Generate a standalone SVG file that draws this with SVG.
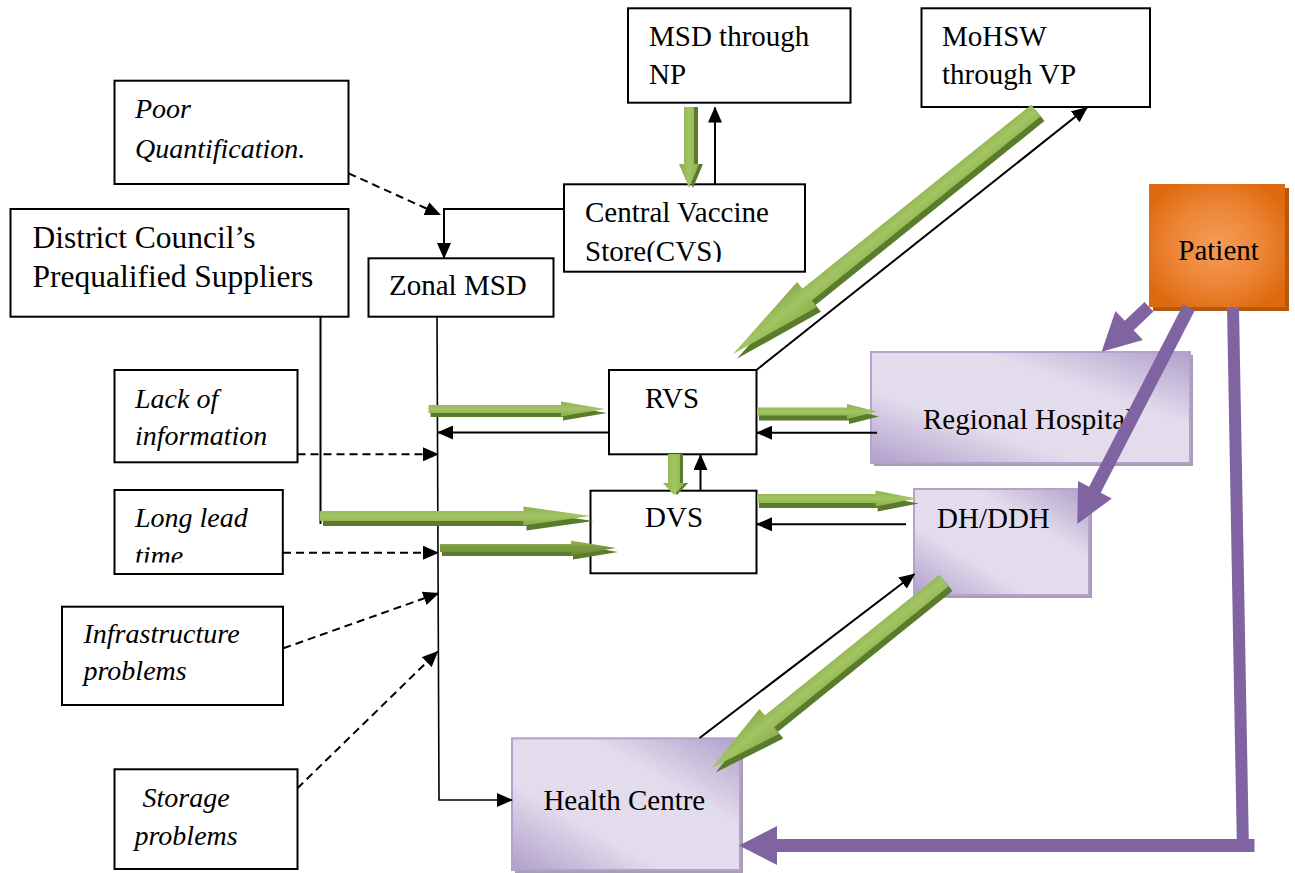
<svg xmlns="http://www.w3.org/2000/svg" width="1295" height="873" viewBox="0 0 1295 873">
<style>
.box{fill:#fff;stroke:#000;stroke-width:2}
.t{font-family:"Liberation Serif","Times New Roman",serif;font-size:29px;fill:#000}
.i{font-style:italic;font-size:28px}
.big{font-size:31.5px}
.pbox{fill:url(#lav);stroke:#B3A2CB;stroke-width:2}
.psh{fill:#A79DB5}
.ln{fill:none;stroke:#000;stroke-width:2}
.thin{fill:none;stroke:#000;stroke-width:1.6}
.dash{fill:none;stroke:#000;stroke-width:2;stroke-dasharray:8 5}
.gl{fill:url(#gLight)}
.gl2{fill:url(#gMid)}
.gd{fill:#5A7A2C}
.pu{fill:#8064A2}
</style>
<defs>
<linearGradient id="lav" x1="1" y1="0" x2="0" y2="1">
<stop offset="0" stop-color="#B09FCA"/>
<stop offset="0.33" stop-color="#E2DCEC"/>
<stop offset="0.67" stop-color="#E2DCEC"/>
<stop offset="1" stop-color="#B09FCA"/>
</linearGradient>
<radialGradient id="org" cx="0.5" cy="0.5" r="0.6">
<stop offset="0" stop-color="#F49D57"/>
<stop offset="0.55" stop-color="#EC8536"/>
<stop offset="1" stop-color="#DF690C"/>
</radialGradient>
<linearGradient id="gLight" x1="0" y1="0" x2="0" y2="1">
<stop offset="0" stop-color="#8DB04E"/>
<stop offset="0.5" stop-color="#A2C462"/>
<stop offset="1" stop-color="#8AAD4B"/>
</linearGradient>
<linearGradient id="gMid" x1="0" y1="0" x2="0" y2="1">
<stop offset="0" stop-color="#9BBE5A"/>
<stop offset="0.4" stop-color="#7A9C40"/>
<stop offset="1" stop-color="#6A8B36"/>
</linearGradient>
<marker id="ah" viewBox="0 0 16 14" markerWidth="16" markerHeight="14" refX="15" refY="7" orient="auto" markerUnits="userSpaceOnUse">
<path d="M0,0 L16,7 L0,14 Z" fill="#000" stroke="none"/>
</marker>
<clipPath id="clipCVS"><rect x="564" y="184" width="241" height="78"/></clipPath>
<clipPath id="clipLong"><rect x="114" y="490" width="169" height="72.5"/></clipPath>
</defs>

<g id="msd-np">
<rect class="box" x="628" y="8.3" width="222.5" height="94.4"/>
<text class="t" x="649" y="45.7">MSD through</text>
<text class="t" x="649" y="84">NP</text>
</g>
<g id="mohsw-vp">
<rect class="box" x="921.5" y="8.3" width="228.5" height="98.7"/>
<text class="t" x="942" y="45.7">MoHSW</text>
<text class="t" x="942" y="84">through VP</text>
</g>
<g id="poor-quantification">
<rect class="box" x="114.5" y="80.7" width="234" height="103.3"/>
<text class="t i" x="135" y="118.3">Poor</text>
<text class="t i" x="135" y="158.3">Quantification.</text>
</g>
<g id="cvs">
<rect class="box" x="564" y="184.3" width="241" height="87.4"/>
<g clip-path="url(#clipCVS)">
<text class="t" x="585" y="221.7">Central Vaccine</text>
<text class="t" x="585" y="260.5">Store(CVS)</text>
</g>
</g>
<g id="district-council">
<rect class="box" x="10.5" y="209" width="338" height="107.7"/>
<text class="t big" x="32.5" y="248.3">District Council’s</text>
<text class="t big" x="32.5" y="286.7">Prequalified Suppliers</text>
</g>
<g id="zonal-msd">
<rect class="box" x="368.5" y="258.3" width="185" height="58.4"/>
<text class="t" x="389" y="295">Zonal MSD</text>
</g>
<g id="lack-info">
<rect class="box" x="114.5" y="370" width="183" height="92.3"/>
<text class="t i" x="135" y="408.3">Lack of</text>
<text class="t i" x="135" y="445">information</text>
</g>
<g id="long-lead">
<rect class="box" x="114.5" y="490" width="168.3" height="84"/>
<g clip-path="url(#clipLong)">
<text class="t i" x="135" y="526.7">Long lead</text>
<text class="t i" x="135" y="564.5">time</text>
</g>
</g>
<g id="infrastructure">
<rect class="box" x="62" y="606.7" width="221" height="98.3"/>
<text class="t i" x="83.5" y="643.3">Infrastructure</text>
<text class="t i" x="83.5" y="680">problems</text>
</g>
<g id="storage">
<rect class="box" x="114.5" y="769.3" width="183" height="99.7"/>
<text class="t i" x="142.5" y="806.7">Storage</text>
<text class="t i" x="134.5" y="845">problems</text>
</g>
<g id="rvs">
<rect class="box" x="609" y="370" width="147.5" height="84.3"/>
<text class="t" x="645" y="407.7">RVS</text>
</g>
<g id="dvs">
<rect class="box" x="590.5" y="490.7" width="166" height="82.6"/>
<text class="t" x="645" y="526.7">DVS</text>
</g>
<g id="regional-hospital">
<rect class="psh" x="874" y="355" width="319" height="111"/>
<rect class="pbox" x="871" y="352" width="319" height="111"/>
<text class="t" x="923" y="429">Regional Hospital</text>
</g>
<g id="dh-ddh">
<rect class="psh" x="917" y="492" width="175" height="106"/>
<rect class="pbox" x="914" y="489" width="175" height="106"/>
<text class="t" x="937" y="528">DH/DDH</text>
</g>
<g id="health-centre">
<rect class="psh" x="515" y="741.3" width="228" height="131.7"/>
<rect class="pbox" x="512" y="738.3" width="228" height="131.7"/>
<text class="t" x="543.4" y="810">Health Centre</text>
</g>
<g id="patient">
<rect x="1153" y="188" width="136" height="123" fill="#B35A12"/>
<rect x="1149" y="184" width="136" height="123" fill="url(#org)"/>
<text class="t" x="1178.3" y="260">Patient</text>
</g>

<g id="connectors">
<!-- thin black connectors -->
<polyline class="ln" points="564,209 444,209 444,258" marker-end="url(#ah)"/>
<polyline class="thin" points="437,316 439,800 512,800" marker-end="url(#ah)"/>
<line class="ln" x1="320.5" y1="316" x2="320.5" y2="524"/>
<line class="ln" x1="715" y1="184" x2="715" y2="107.5" marker-end="url(#ah)"/>
<line class="ln" x1="609" y1="432.5" x2="438" y2="432.5" marker-end="url(#ah)"/>
<line class="ln" x1="877" y1="432.7" x2="757" y2="432.7" marker-end="url(#ah)"/>
<line class="ln" x1="700.5" y1="490.7" x2="700.5" y2="455" marker-end="url(#ah)"/>
<line class="ln" x1="906" y1="524.3" x2="757" y2="524.3" marker-end="url(#ah)"/>
<line class="ln" x1="757" y1="369.5" x2="1087" y2="107.5" marker-end="url(#ah)"/>
<line class="ln" x1="699.6" y1="738" x2="914.5" y2="574" marker-end="url(#ah)"/>
<!-- dashed -->
<line class="dash" x1="348.5" y1="173.3" x2="440" y2="214.7" marker-end="url(#ah)"/>
<line class="dash" x1="297.5" y1="454.3" x2="438" y2="454.3" marker-end="url(#ah)"/>
<line class="dash" x1="283" y1="552.7" x2="438" y2="552.7" marker-end="url(#ah)"/>
<line class="dash" x1="283.3" y1="648.3" x2="438.3" y2="593.3" marker-end="url(#ah)"/>
<line class="dash" x1="297.4" y1="788.3" x2="437.5" y2="651.7" marker-end="url(#ah)"/>
<!-- green block arrows -->
<g transform="translate(689,107) rotate(90)">
<path class="gd" transform="translate(0,-4)" d="M0,-5 H57 V-10 L81,0 L57,10 V5 H0 Z"/>
<path class="gl" d="M0,-5 H57 V-10 L81,0 L57,10 V5 H0 Z"/>
</g>
<g transform="translate(1036,110.5) rotate(141.2)">
<path class="gd" transform="translate(0,-6)" d="M0,-7.5 H293.7 V-16 L388.7,0 L293.7,16 V7.5 H0 Z"/>
<path class="gl" d="M0,-7.5 H293.7 V-16 L388.7,0 L293.7,16 V7.5 H0 Z"/>
</g>
<g transform="translate(428.5,409)">
<path class="gd" transform="translate(2,4)" d="M0,-4 H132.5 V-7.5 L176.5,0 L132.5,7.5 V4 H0 Z"/>
<path class="gl" d="M0,-4 H132.5 V-7.5 L176.5,0 L132.5,7.5 V4 H0 Z"/>
</g>
<g transform="translate(757,411.5)">
<path class="gd" transform="translate(2,5)" d="M0,-4 H90 V-7.5 L120,0 L90,7.5 V4 H0 Z"/>
<path class="gl" d="M0,-4 H90 V-7.5 L120,0 L90,7.5 V4 H0 Z"/>
</g>
<g transform="translate(674,454) rotate(90)">
<path class="gd" transform="translate(0,-3)" d="M0,-6 H29 V-11 L41,0 L29,11 V6 H0 Z"/>
<path class="gl" d="M0,-6 H29 V-11 L41,0 L29,11 V6 H0 Z"/>
</g>
<g transform="translate(757,498.5)">
<path class="gd" transform="translate(2,5)" d="M0,-4.5 H118.6 V-8 L159.6,0 L118.6,8 V4.5 H0 Z"/>
<path class="gl" d="M0,-4.5 H118.6 V-8 L159.6,0 L118.6,8 V4.5 H0 Z"/>
</g>
<g transform="translate(320,516)">
<path class="gd" transform="translate(3,5)" d="M0,-5 H203.5 V-9.5 L270.5,0 L203.5,9.5 V5 H0 Z"/>
<path class="gl" d="M0,-5 H203.5 V-9.5 L270.5,0 L203.5,9.5 V5 H0 Z"/>
</g>
<g transform="translate(440,548)">
<path class="gd" transform="translate(2,4)" d="M0,-4 H131 V-7.5 L176,0 L131,7.5 V4 H0 Z"/>
<path class="gl2" d="M0,-4 H131 V-7.5 L176,0 L131,7.5 V4 H0 Z"/>
</g>
<g transform="translate(944,580.5) rotate(141.1)">
<path class="gd" transform="translate(0,-6)" d="M0,-7.5 H224.3 V-16 L298.3,0 L224.3,16 V7.5 H0 Z"/>
<path class="gl" d="M0,-7.5 H224.3 V-16 L298.3,0 L224.3,16 V7.5 H0 Z"/>
</g>
<!-- purple arrows -->
<path class="pu" transform="translate(1149,306.7) rotate(136.5)" d="M0,-6.5 H27.3 V-20 L65.3,0 L27.3,20 V6.5 H0 Z"/>
<path class="pu" transform="translate(1189,307.5) rotate(117.3)" d="M0,-6.5 H205.1 V-19 L243.6,0 L205.1,19 V6.5 H0 Z"/>
<line x1="1233" y1="307" x2="1243" y2="852" stroke="#8064A2" stroke-width="12"/>
<line x1="1254.5" y1="845.5" x2="775" y2="845.5" stroke="#8064A2" stroke-width="13"/>
<polygon class="pu" points="777,826 739,845.5 777,865"/>
</g>
</svg>
